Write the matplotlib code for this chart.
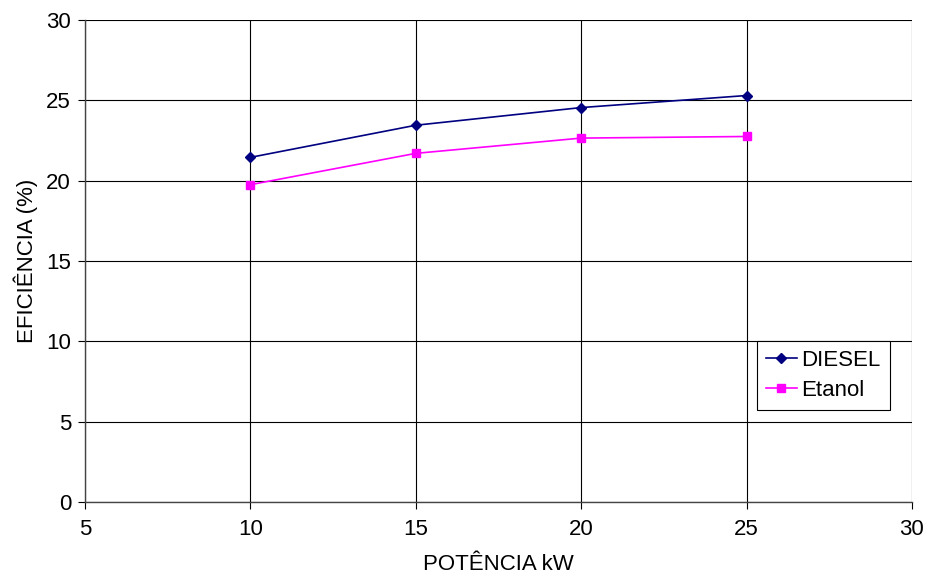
import matplotlib
matplotlib.use("Agg")
import matplotlib.pyplot as plt

plt.rcParams['font.family'] = ['Liberation Sans', 'DejaVu Sans']

potencia = [10, 15, 20, 25]
diesel = [21.45, 23.45, 24.55, 25.3]
etanol = [19.75, 21.7, 22.65, 22.75]

fig = plt.figure(figsize=(9.3, 5.85), dpi=100)
ax = fig.add_axes([0.0914, 0.1419, 0.8892, 0.8239])

ax.plot(potencia, diesel, color='#000080', lw=1.2, marker='D', ms=5,
        label='DIESEL', zorder=3)
ax.plot(potencia, etanol, color='#FF00FF', lw=1.2, marker='s', ms=6,
        label='Etanol', zorder=3)

ax.set_xlim(5, 30)
ax.set_ylim(0, 30)
ax.set_xticks(range(5, 31, 5))
ax.set_yticks(range(0, 31, 5))
ax.grid(True, color='black', lw=0.8)
ax.set_axisbelow(True)
ax.tick_params(direction='out', length=5, width=0.8, labelsize=16, colors='black')
ax.tick_params(axis='x', pad=7)
ax.tick_params(axis='y', pad=5)
for side in ['top', 'right']:
    ax.spines[side].set_visible(False)
for side in ['left', 'bottom']:
    ax.spines[side].set_color('#444444')
    ax.spines[side].set_linewidth(1)

ax.set_xlabel('POTÊNCIA kW', fontsize=16, labelpad=10)
ax.set_ylabel('EFICIÊNCIA (%)', fontsize=16, labelpad=6)

leg = ax.legend(loc='lower left', bbox_to_anchor=(0.8126, 0.191), fontsize=16,
                frameon=True, fancybox=False, edgecolor='black', framealpha=1,
                handlelength=1.4, handletextpad=0.2, borderpad=0.4,
                labelspacing=0.4, borderaxespad=0)
leg.get_frame().set_linewidth(0.8)

fig.savefig('out.png', dpi=100)
